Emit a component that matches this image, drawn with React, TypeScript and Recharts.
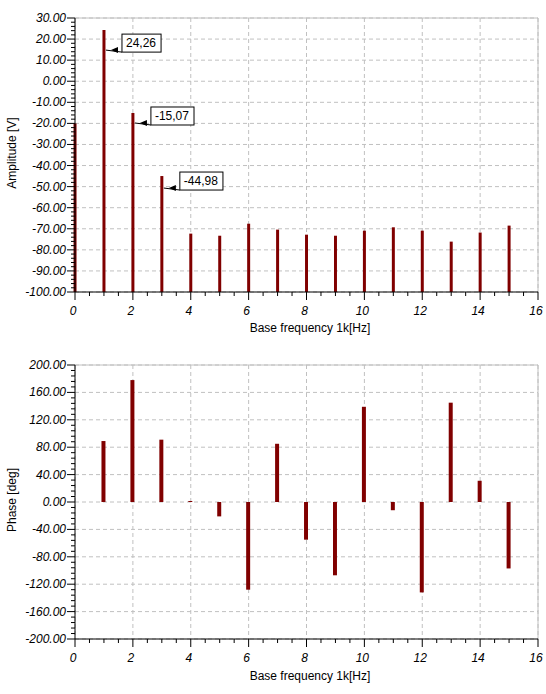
import React from "react"
import { BarChart, Bar, XAxis, YAxis, CartesianGrid, ReferenceLine, LabelList } from "recharts"

// harmonic number (x 1 kHz)
const freqs = [0, 1, 2, 3, 4, 5, 6, 7, 8, 9, 10, 11, 12, 13, 14, 15]
// amplitude spectrum [V] (dB-like scale, bars drawn from the floor)
const amplitude = [-20, 24.26, -15.07, -44.98, -72.3, -73.3, -67.6, -70.4, -72.8, -73.3, -70.9, -69.3, -70.9, -76.1, -71.8, -68.5]
// phase spectrum [deg]
const phase = [0, 89, 178, 91, 1.5, -21, -128, 85, -55, -107, 139, -12, -132, 145, 31, -97]
// peaks that get a value box
const annotated = [1, 2, 3]

const xTicks = Array.from({ length: 33 }, (_, i) => i * 0.5)
const xGrid = [0, 2, 4, 6, 8, 10, 12, 14, 16]
const ampTicks = Array.from({ length: 66 }, (_, i) => -100 + i * 2)
const ampGrid = [-100, -90, -80, -70, -60, -50, -40, -30, -20, -10, 0, 10, 20, 30]
const phaseTicks = Array.from({ length: 51 }, (_, i) => -200 + i * 8)
const phaseGrid = [-200, -160, -120, -80, -40, 0, 40, 80, 120, 160, 200]

const ampData = freqs.map((f, i) => ({ f, amp: [-100, amplitude[i]] }))
const phaseData = freqs.map((f, i) => ({ f, phase: phase[i] }))

const BAR = "#800000"
const GRID = "#c0c0c0"
const FONT = "'Liberation Sans', Arial, sans-serif"

const XTick = (props: any) => {
  const { x, y, payload } = props
  const v = payload.value
  const major = v % 2 === 0
  return (
    <g>
      <line x1={x} x2={x} y1={y} y2={y + (major ? 8 : 4)} stroke="#000" />
      {major && (
        <text x={x - 2} y={y + 23} textAnchor="middle" fontFamily={FONT} fontSize={12} fontStyle="italic" fill="#000">
          {v}
        </text>
      )}
    </g>
  )
}

const makeYTick = (step: number) => (props: any) => {
  const { x, y, payload } = props
  const v = payload.value
  const major = v % step === 0
  return (
    <g>
      <line x1={x - (major ? 8 : 4)} x2={x} y1={y} y2={y} stroke="#000" />
      {major && (
        <text x={x - 9} y={y + 4} textAnchor="end" fontFamily={FONT} fontSize={12} fontStyle="italic" fill="#000">
          {v.toFixed(2)}
        </text>
      )}
    </g>
  )
}

const yTitle = (text: string, cy: number) => () => (
  <text
    x={12}
    y={cy}
    transform={`rotate(-90, 12, ${cy})`}
    textAnchor="middle"
    dominantBaseline="central"
    fontFamily={FONT}
    fontSize={12}
    fill="#000"
  >
    {text}
  </text>
)

const xTitle = (cy: number) => () => (
  <text x={310} y={cy} textAnchor="middle" fontFamily={FONT} fontSize={12} fill="#000">
    Base frequency 1k[Hz]
  </text>
)

// box offsets relative to bar top
const boxDy: Record<number, number> = { 1: 4, 2: -6, 3: -4 }

const charW = (s: string) =>
  s.split("").reduce((w, c) => w + (c === "," ? 3.3 : c === "-" ? 4 : 6.7), 0)

const PeakLabel = (props: any) => {
  const { x, y, width, index } = props
  if (!annotated.includes(index)) return null
  const cx = x + width / 2
  const text = amplitude[index].toFixed(2).replace(".", ",")
  const left = cx + 18
  const top = y + boxDy[index]
  const w = charW(text) + 9
  const bottom = top + 18
  const ay = bottom - 2
  return (
    <g>
      <line x1={cx + 2} y1={ay} x2={left} y2={bottom} stroke="#000" />
      <polygon points={`${cx + 7},${ay} ${cx + 14},${ay - 3} ${cx + 14},${ay + 3}`} fill="#000" />
      <rect x={left} y={top} width={w} height={18} fill="#fff" stroke="#000" />
      <text x={left + 4} y={top + 13} fontFamily={FONT} fontSize={12} fill="#000">
        {text}
      </text>
    </g>
  )
}

export default function App() {
  return (
    <div style={{ position: "absolute", left: 0, top: 0, width: 546, height: 694, background: "#fff" }}>
      <BarChart width={546} height={345} data={ampData} margin={{ top: 18, right: 8, bottom: 0, left: 0 }}>
        <CartesianGrid stroke={GRID} strokeDasharray="4 3" horizontalValues={ampGrid} verticalValues={xGrid} />
        <ReferenceLine y={30} stroke={GRID} />
        <ReferenceLine x={16} stroke={GRID} />
        <XAxis
          dataKey="f"
          type="number"
          domain={[0, 16]}
          ticks={xTicks}
          interval={0}
          tickSize={0}
          tickMargin={0}
          tick={XTick}
          tickLine={false}
          axisLine={{ stroke: "#000" }}
          height={53}
          label={{ content: xTitle(332) }}
        />
        <YAxis
          type="number"
          domain={[-100, 30]}
          ticks={ampTicks}
          interval={0}
          tickSize={0}
          tickMargin={0}
          tick={makeYTick(10)}
          tickLine={false}
          axisLine={{ stroke: "#000" }}
          width={75}
          label={{ content: yTitle("Amplitude [V]", 153) }}
        />
        <Bar dataKey="amp" fill={BAR} barSize={3} isAnimationActive={false}>
          <LabelList dataKey="amp" content={PeakLabel} />
        </Bar>
      </BarChart>
      <BarChart width={546} height={349} data={phaseData} margin={{ top: 20, right: 8, bottom: 0, left: 0 }}>
        <CartesianGrid stroke={GRID} strokeDasharray="4 3" horizontalValues={phaseGrid} verticalValues={xGrid} />
        <ReferenceLine y={200} stroke={GRID} />
        <ReferenceLine x={16} stroke={GRID} />
        <XAxis
          dataKey="f"
          type="number"
          domain={[0, 16]}
          ticks={xTicks}
          interval={0}
          tickSize={0}
          tickMargin={0}
          tick={XTick}
          tickLine={false}
          axisLine={{ stroke: "#000" }}
          height={55}
          label={{ content: xTitle(335) }}
        />
        <YAxis
          type="number"
          domain={[-200, 200]}
          ticks={phaseTicks}
          interval={0}
          tickSize={0}
          tickMargin={0}
          tick={makeYTick(40)}
          tickLine={false}
          axisLine={{ stroke: "#000" }}
          width={75}
          label={{ content: yTitle("Phase [deg]", 155) }}
        />
        <Bar dataKey="phase" fill={BAR} barSize={4} isAnimationActive={false} />
      </BarChart>
    </div>
  )
}
